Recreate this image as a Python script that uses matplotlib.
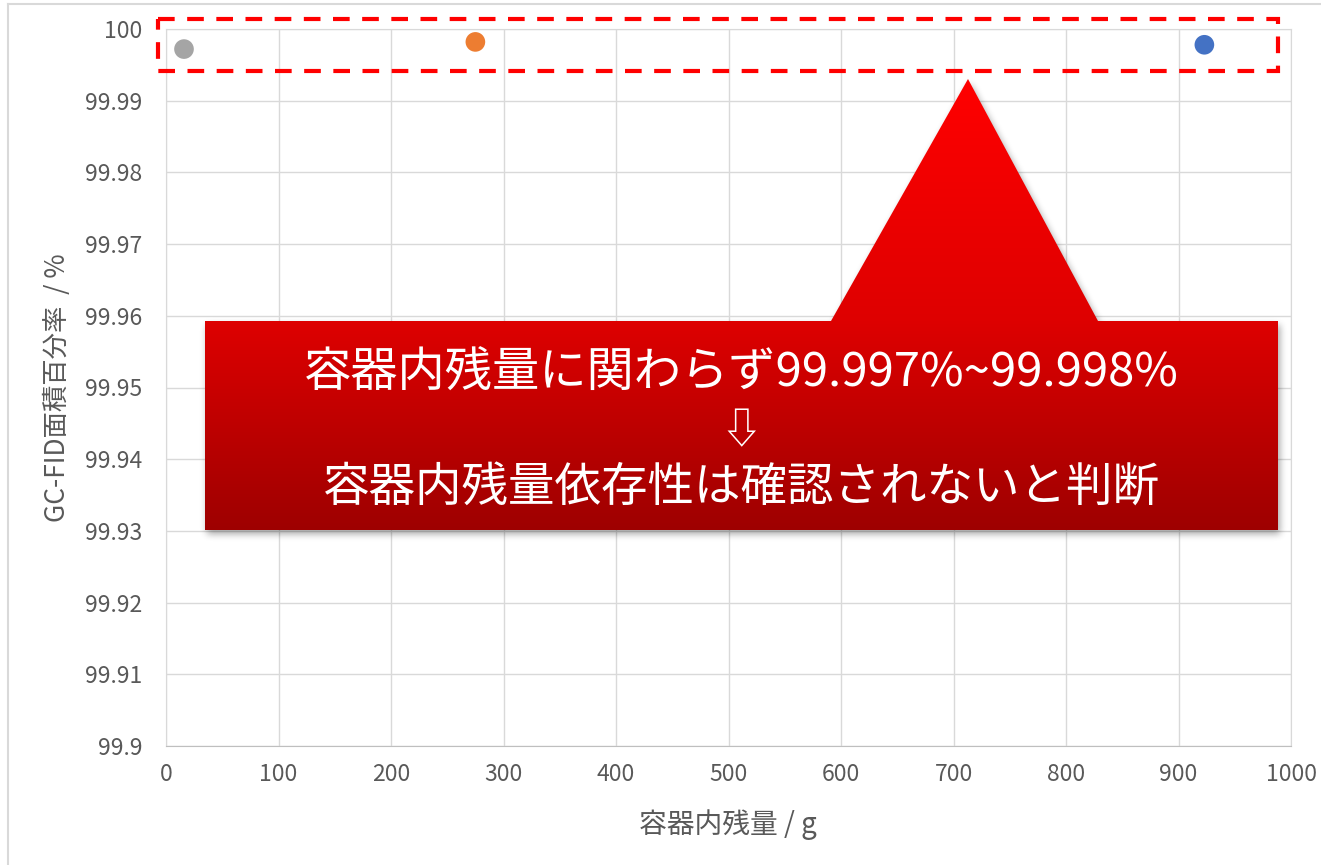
import numpy as np
import matplotlib
matplotlib.use("Agg")
import matplotlib.pyplot as plt
from matplotlib.path import Path
from matplotlib.patches import PathPatch, Rectangle

plt.rcParams['font.family'] = ['Noto Sans CJK JP', 'DejaVu Sans']

# residual amount in the container (g) vs GC-FID area percent
residual_g = [16, 275, 923]
area_pct = [99.9972, 99.9982, 99.9978]
point_colors = ['#A5A5A5', '#ED7D31', '#4472C4']

x_ticks = [0, 100, 200, 300, 400, 500, 600, 700, 800, 900, 1000]
y_ticks = [99.90, 99.91, 99.92, 99.93, 99.94, 99.95, 99.96, 99.97, 99.98, 99.99, 100.0]
y_tick_labels = ['99.9', '99.91', '99.92', '99.93', '99.94', '99.95',
                 '99.96', '99.97', '99.98', '99.99', '100']

x_title = '容器内残量 / g'
y_title = 'GC-FID面積百分率  / %'
note_lines = ['容器内残量に関わらず99.997%~99.998%', '⇩', '容器内残量依存性は確認されないと判断']

W, H = 1321, 865
fig = plt.figure(figsize=(W / 100, H / 100), dpi=100)

ax = fig.add_axes([166 / W, 1 - 746 / H, 1125 / W, 717 / H])
ax.scatter(residual_g, area_pct, s=200, c=point_colors, zorder=3, linewidths=0)
ax.set_xlim(0, 1000)
ax.set_ylim(99.9, 100)
ax.set_xticks(x_ticks)
ax.set_yticks(y_ticks)
ax.set_yticklabels(y_tick_labels)
ax.grid(True, color='#D9D9D9', lw=1.0)
ax.set_axisbelow(True)
for s in ax.spines.values():
    s.set_color('#D9D9D9')
ax.spines['bottom'].set_color('#BFBFBF')
ax.tick_params(length=0, labelsize=16.5, colors='#595959')
ax.tick_params(axis='y', pad=17)
ax.tick_params(axis='x', pad=12)

fig.text(728 / W, 1 - 825 / H, x_title, ha='center', va='center', fontsize=20, color='#595959')
fig.text(57 / W, 1 - 388 / H, y_title, ha='center', va='center', rotation=90,
         fontsize=19, color='#595959')

# overlay in pixel units for the frame, highlight box and callout
ov = fig.add_axes([0, 0, 1, 1], zorder=5)
ov.set_xlim(0, W)
ov.set_ylim(H, 0)
ov.axis('off')
ov.patch.set_alpha(0)

ov.plot([8, 8], [H + 5, 4], color='#D9D9D9', lw=1.5)
ov.plot([8, W + 5], [4, 4], color='#D9D9D9', lw=1.5)

ov.add_patch(Rectangle((158, 18.5), 1278 - 158, 70.5 - 18.5, fill=False,
                       ec='#FF0000', lw=3, linestyle=(0, (4, 3))))

verts = [(205, 321), (831, 321), (968, 79), (1098, 321), (1278, 321),
         (1278, 530), (205, 530), (205, 321)]
codes = [Path.MOVETO] + [Path.LINETO] * 6 + [Path.CLOSEPOLY]
callout = Path(verts, codes)

# soft drop shadow
x0, x1, y0, y1 = 170, 1320, 50, 570
gx, gy = np.meshgrid(np.arange(x0, x1) + 0.5, np.arange(y0, y1) + 0.5)
mask = callout.contains_points(np.c_[gx.ravel() - 2, gy.ravel() - 4]).reshape(gx.shape).astype(float)

def box_blur(a, r):
    k = 2 * r + 1
    p = np.pad(a, ((0, 0), (r + 1, r)), mode='edge')
    c = np.cumsum(p, axis=1)
    a = (c[:, k:] - c[:, :-k]) / k
    p = np.pad(a, ((r + 1, r), (0, 0)), mode='edge')
    c = np.cumsum(p, axis=0)
    return (c[k:, :] - c[:-k, :]) / k

for _ in range(3):
    mask = box_blur(mask, 3)
shadow = np.zeros(mask.shape + (4,))
shadow[..., 3] = mask * 0.35
ov.imshow(shadow, extent=(x0, x1, y1, y0), origin='upper', aspect='auto',
          interpolation='bilinear', zorder=1)

# vertical red gradient clipped to the callout shape
ys = np.arange(79, 531)
red = np.interp(ys, [79, 321, 530], [255, 222, 158]) / 255
grad = np.zeros((len(ys), 1, 3))
grad[:, 0, 0] = red
patch = PathPatch(callout, fc='none', ec='none', transform=ov.transData)
ov.add_patch(patch)
im = ov.imshow(grad, extent=(205, 1278, 530, 79), origin='upper', aspect='auto',
               interpolation='bilinear', zorder=2)
im.set_clip_path(patch)

ov.text(741, 373, note_lines[0], ha='center', va='center', color='white', fontsize=34, zorder=3)
ov.text(741, 432, note_lines[1], ha='center', va='center', color='white', fontsize=30, zorder=3)
ov.text(741, 488, note_lines[2], ha='center', va='center', color='white', fontsize=33.5, zorder=3)

fig.savefig('out.png', dpi=100)
